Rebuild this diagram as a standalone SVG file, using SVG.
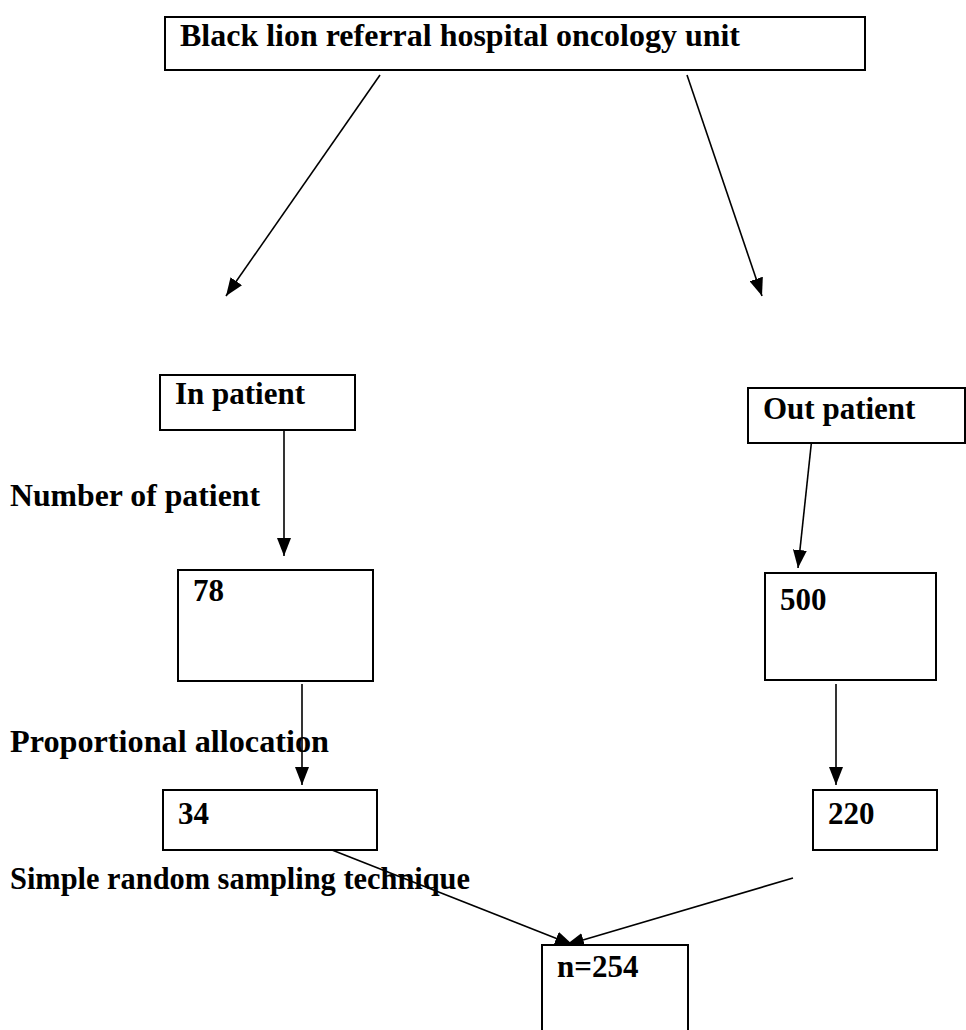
<svg xmlns="http://www.w3.org/2000/svg" width="966" height="1030" viewBox="0 0 966 1030">
<defs>
<marker id="ah" markerWidth="18" markerHeight="14" refX="18" refY="7" orient="auto" markerUnits="userSpaceOnUse" viewBox="0 0 18 14">
<path d="M0,0 L18,7 L0,14 z" fill="#000"/>
</marker>
<style>
.box{fill:#fff;stroke:#000;stroke-width:2}
.t{font-family:"Liberation Serif","Times New Roman",serif;font-weight:bold;font-size:31px;fill:#000}
.c{stroke:#000;stroke-width:1.6;fill:none;marker-end:url(#ah)}
</style>
</defs>
<rect width="966" height="1030" fill="#fff"/>
<g id="connectors">
<line class="c" x1="380" y1="75" x2="226" y2="296"/>
<line class="c" x1="687" y1="75" x2="762" y2="296"/>
<line class="c" x1="284" y1="430" x2="284" y2="556"/>
<line class="c" x1="812" y1="437" x2="798" y2="568"/>
<line class="c" x1="302" y1="684" x2="302" y2="785"/>
<line class="c" x1="836" y1="684" x2="836" y2="785"/>
<line class="c" x1="332" y1="850" x2="573" y2="945"/>
<line class="c" x1="793" y1="878" x2="566" y2="945"/>
</g>
<g id="n-top"><rect class="box" x="165" y="17" width="700" height="53"/><text class="t" x="180" y="46" textLength="560" lengthAdjust="spacingAndGlyphs">Black lion referral hospital oncology unit</text></g>
<g id="n-in"><rect class="box" x="160" y="375" width="195" height="55"/><text class="t" x="175" y="404">In patient</text></g>
<g id="n-out"><rect class="box" x="748" y="388" width="217" height="55"/><text class="t" x="763" y="419">Out patient</text></g>
<g id="n-78"><rect class="box" x="178" y="570" width="195" height="111"/><text class="t" x="193" y="601">78</text></g>
<g id="n-500"><rect class="box" x="765" y="573" width="171" height="107"/><text class="t" x="780" y="610">500</text></g>
<g id="n-34"><rect class="box" x="163" y="790" width="214" height="60"/><text class="t" x="178" y="824">34</text></g>
<g id="n-220"><rect class="box" x="813" y="790" width="124" height="60"/><text class="t" x="828" y="824">220</text></g>
<g id="n-254"><rect class="box" x="542" y="945" width="146" height="90"/><text class="t" x="557" y="977">n=254</text></g>
<text class="t" x="10" y="506" textLength="250" lengthAdjust="spacingAndGlyphs">Number of patient</text>
<text class="t" x="10" y="752" textLength="319" lengthAdjust="spacingAndGlyphs">Proportional allocation</text>
<text class="t" x="10" y="889" textLength="460" lengthAdjust="spacingAndGlyphs">Simple random sampling technique</text>
</svg>
